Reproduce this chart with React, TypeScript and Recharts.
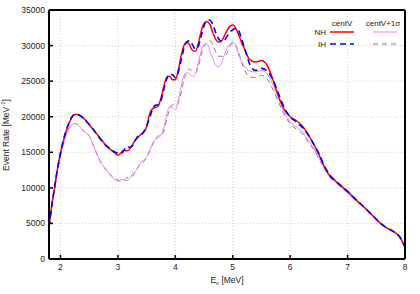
import { LineChart, Line, XAxis, YAxis, CartesianGrid } from "recharts";

// energy grid [MeV]
const energies = [
  1.8, 1.85, 1.9, 1.95, 2.0, 2.05, 2.1, 2.15, 2.2, 2.25, 2.3, 2.35, 2.4,
  2.5, 2.6, 2.7, 2.8, 2.9,
  2.95, 3.0, 3.05, 3.1, 3.15, 3.2, 3.25, 3.3, 3.35, 3.4, 3.45, 3.5, 3.55, 3.6, 3.65, 3.7, 3.75,
  3.8, 3.85, 3.9, 3.95, 4.0, 4.05, 4.1, 4.15, 4.2, 4.25, 4.3, 4.35, 4.4, 4.45, 4.5, 4.55, 4.6,
  4.65, 4.7, 4.75, 4.8, 4.85, 4.9, 4.95, 5.0, 5.05, 5.1, 5.15, 5.2,
  5.3, 5.4, 5.5, 5.6, 5.7, 5.8, 5.9, 6.0,
  6.1, 6.2, 6.3, 6.4, 6.5, 6.6, 6.7, 6.8, 6.9, 7.0, 7.1, 7.2, 7.3, 7.4, 7.5, 7.6, 7.7, 7.8, 7.9, 8.0,
];

// centV, normal hierarchy
const nhCentral = [
  4500, 7600, 10200, 12800, 14900, 16600, 18000, 19100, 19900, 20300, 20300, 20100, 19800,
  18900, 17900, 16900, 15900, 15200,
  14900, 14600, 14900, 15300, 15200, 15400, 16000, 16700, 17100, 17500, 17800, 18600, 20300, 21100, 21300, 21500, 22600,
  24300, 25500, 25700, 25200, 25200, 26500, 28500, 30000, 30500, 30100, 29300, 29200, 30300, 32000, 33100, 33400, 33000,
  31900, 30900, 30500, 30600, 31300, 32100, 32700, 32900, 32500, 31600, 30500, 29600,
  28000, 27700, 27900, 27200, 25200, 22800, 21000, 20000,
  19500, 18800, 17700, 16300, 14700, 12900, 11600, 10900, 10200, 9500, 8700, 7950, 7200, 6400, 5600, 4800, 4300, 3850, 3200, 1700,
];

// centV, inverted hierarchy
const ihCentral = [
  4500, 7600, 10200, 12800, 14900, 16700, 18100, 19200, 20000, 20300, 20300, 20100, 19800,
  18900, 17900, 16800, 15900, 15300,
  15000, 14900, 14800, 15200, 15800, 15700, 15900, 16600, 17300, 17500, 17900, 18700, 19800, 21000, 21600, 21700, 22300,
  23800, 25300, 26000, 25900, 25500, 26200, 27900, 29600, 30500, 30700, 30100, 29500, 29900, 31300, 32800, 33500, 33600,
  33000, 31900, 31000, 30600, 30700, 31300, 31900, 32200, 32400, 32200, 31000, 29800,
  27300, 26500, 26800, 26400, 25200, 23200, 21200, 20000,
  19300, 18600, 17600, 16300, 14800, 13000, 11700, 10900, 10200, 9500, 8700, 7950, 7200, 6400, 5600, 4850, 4300, 3850, 3200, 1700,
];

// centV+1sigma, normal hierarchy
const nhSigma = [
  4500, 7500, 10000, 12500, 14500, 16200, 17500, 18400, 18900, 19050, 18900, 18500, 18000,
  17300, 15400, 13600, 12500, 11500,
  11100, 10900, 11200, 11100, 11000, 11300, 11900, 12300, 12800, 13600, 13900, 14300, 15000, 16200, 16800, 17000, 17400,
  18500, 20300, 21400, 21300, 21000, 22200, 24200, 25800, 26200, 26000, 25700, 26100, 27600, 29200, 30100, 30200, 29300,
  28200, 27300, 27000, 27500, 28600, 29600, 30200, 30500, 30000, 28800, 27800, 27100,
  26400, 26300, 26500, 26000, 24500, 22500, 20600, 19300,
  18600, 18000, 16800, 15700, 14200, 12700, 11400, 10700, 10000, 9300, 8500, 7800, 7100, 6300, 5500, 4800, 4300, 3800, 3150, 1700,
];

// centV+1sigma, inverted hierarchy
const ihSigma = [
  4500, 7500, 10000, 12500, 14500, 16200, 17500, 18400, 18900, 19050, 18900, 18500, 18000,
  17300, 15400, 13600, 12500, 11600,
  11300, 11100, 10900, 11000, 11400, 11500, 11600, 12200, 12900, 13400, 13700, 14300, 15200, 16000, 16800, 17300, 17400,
  18000, 19600, 21000, 21700, 21600, 21900, 23300, 25200, 26300, 26700, 26400, 26200, 27000, 28600, 29900, 30500, 30700,
  30200, 29200, 28500, 28500, 28400, 28900, 29800, 30400, 30100, 29100, 27800, 26700,
  25600, 25500, 25800, 25300, 23800, 22000, 20300, 19000,
  18300, 17700, 16600, 15500, 14100, 12700, 11400, 10700, 10000, 9300, 8500, 7800, 7100, 6300, 5500, 4800, 4300, 3800, 3150, 1700,
];

const xTicks = [2, 3, 4, 5, 6, 7, 8];
const yTicks = [0, 5000, 10000, 15000, 20000, 25000, 30000, 35000];

const rows = energies.map((e, i) => ({
  e,
  nh: nhCentral[i],
  ih: ihCentral[i],
  nhS: nhSigma[i],
  ihS: ihSigma[i],
}));

const font = "'Liberation Sans', Arial, sans-serif";
const tickStyle = { fontSize: 8.5, fill: "#222", fontFamily: font };

export default function App() {
  return (
    <div style={{ position: "absolute", left: 0, top: 0, width: 420, height: 294, background: "#fff" }}>
      <LineChart width={420} height={294} data={rows} margin={{ top: 0, right: 0, bottom: 0, left: 0 }}>
        <CartesianGrid stroke="#c4c4c4" strokeDasharray="1 2" strokeWidth={0.8} />
        <XAxis
          type="number"
          dataKey="e"
          domain={[1.8, 8]}
          ticks={xTicks}
          allowDataOverflow
          height={35}
          axisLine={{ stroke: "#000", strokeWidth: 2 }}
          tickLine={{ stroke: "#000", strokeWidth: 1.5 }}
          tickSize={-4}
          tickMargin={9}
          tick={tickStyle}
          label={{
            content: () => (
              <text x={227} y={283} textAnchor="middle" fontSize={8.5} fontFamily={font} fill="#222">
                E
                <tspan dy={2} fontSize={6}>ν</tspan>
                <tspan dy={-2}> [MeV]</tspan>
              </text>
            ),
          }}
        />
        <XAxis
          xAxisId="top"
          orientation="top"
          type="number"
          dataKey="e"
          domain={[1.8, 8]}
          ticks={xTicks}
          allowDataOverflow
          height={10}
          axisLine={{ stroke: "#000", strokeWidth: 2 }}
          tickLine={{ stroke: "#000", strokeWidth: 1.5 }}
          tickSize={-4}
          tick={false}
        />
        <YAxis
          type="number"
          domain={[0, 35000]}
          ticks={yTicks}
          allowDataOverflow
          width={49}
          axisLine={{ stroke: "#000", strokeWidth: 2 }}
          tickLine={{ stroke: "#000", strokeWidth: 1.5 }}
          tickSize={-4}
          tickMargin={8}
          tick={tickStyle}
          label={{
            content: () => (
              <text
                x={6}
                y={135}
                transform="rotate(-90 6 135)"
                textAnchor="middle"
                dominantBaseline="central"
                fontSize={8.5}
                fontFamily={font}
                fill="#222"
              >
                Event Rate [MeV
                <tspan dy={-3} fontSize={6}>-1</tspan>
                <tspan dy={3}>]</tspan>
              </text>
            ),
          }}
        />
        <YAxis
          yAxisId="right"
          orientation="right"
          type="number"
          domain={[0, 35000]}
          ticks={yTicks}
          allowDataOverflow
          width={15}
          axisLine={{ stroke: "#000", strokeWidth: 2 }}
          tickLine={{ stroke: "#000", strokeWidth: 1.5 }}
          tickSize={-4}
          tick={false}
        />

        <Line dataKey="ihS" type="monotone" stroke="#808080" strokeWidth={1} strokeDasharray="5 4" dot={false} isAnimationActive={false} />
        <Line dataKey="nhS" type="monotone" stroke="#f07ff0" strokeWidth={1} dot={false} isAnimationActive={false} />
        <Line dataKey="nh" type="monotone" stroke="#ff0000" strokeWidth={1.5} dot={false} isAnimationActive={false} />
        <Line dataKey="ih" type="monotone" stroke="#0000ff" strokeWidth={1.6} strokeDasharray="6 4" dot={false} isAnimationActive={false} />
      </LineChart>

      {/* legend */}
      <svg width={420} height={294} style={{ position: "absolute", left: 0, top: 0, pointerEvents: "none" }}>
        <g fontFamily={font} fontSize={8} fill="#222">
          <text x={342} y={26} textAnchor="middle">centV</text>
          <text x={383} y={26} textAnchor="middle">centV+1σ</text>
          <text x={326} y={35} textAnchor="end">NH</text>
          <text x={326} y={47} textAnchor="end">IH</text>
        </g>
        <line x1={330} x2={354} y1={32} y2={32} stroke="#ff0000" strokeWidth={1.5} />
        <line x1={373} x2={397} y1={32} y2={32} stroke="#f07ff0" strokeWidth={1} />
        <line x1={330} x2={354} y1={44} y2={44} stroke="#0000ff" strokeWidth={1.6} strokeDasharray="6 4" />
        <line x1={373} x2={397} y1={44} y2={44} stroke="#808080" strokeWidth={1} strokeDasharray="5 4" />
      </svg>
    </div>
  );
}
